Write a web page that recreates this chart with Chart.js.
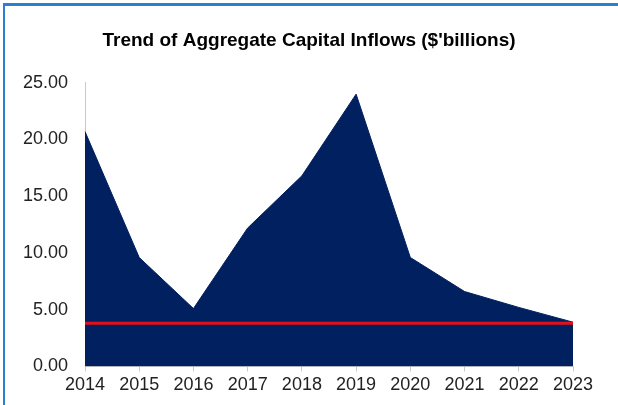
<!DOCTYPE html>
<html>
<head>
<meta charset="utf-8">
<script src="https://cdn.jsdelivr.net/npm/chart.js@4/dist/chart.umd.min.js"></script>
<style>
  html, body { margin: 0; padding: 0; background: #fff; }
  #wrap { position: relative; width: 618px; height: 405px; overflow: hidden; }
  #frame { position: absolute; left: 3px; top: 3px; right: -10px; bottom: -10px;
           border-top: 3px solid #2a7fd4; border-left: 2px solid #2a7fd4; }
  canvas { position: absolute; left: 0; top: 0; }
</style>
</head>
<body>
<div id="wrap">
  <canvas id="c" width="618" height="405"></canvas>
  <div id="frame"></div>
</div>
<script>
const years = ['2014','2015','2016','2017','2018','2019','2020','2021','2022','2023'];
const inflows = [20.7, 9.6, 5.1, 12.2, 16.8, 24.0, 9.6, 6.6, 5.2, 3.9];
const benchmark = [3.8, 3.8, 3.8, 3.8, 3.8, 3.8, 3.8, 3.8, 3.8, 3.8];
const titleText = "Trend of Aggregate Capital Inflows ($'billions)";

new Chart(document.getElementById('c'), {
  type: 'line',
  data: {
    labels: years,
    datasets: [
      {
        label: 'Benchmark',
        data: benchmark,
        borderColor: '#e3101b',
        borderWidth: 3,
        pointRadius: 0,
        fill: false,
        order: 0
      },
      {
        label: 'Capital Inflows',
        data: inflows,
        borderColor: '#002060',
        backgroundColor: '#002060',
        borderWidth: 1,
        pointRadius: 0,
        tension: 0,
        fill: 'origin',
        order: 1
      }
    ]
  },
  options: {
    responsive: false,
    animation: false,
    devicePixelRatio: 1,
    layout: { padding: { left: 0, right: 0, top: 21, bottom: 6 } },
    plugins: {
      legend: { display: false },
      tooltip: { enabled: false },
      title: {
        display: true,
        text: titleText,
        color: '#000',
        font: { family: 'Liberation Sans, Arial, sans-serif', size: 19, weight: 'bold' },
        padding: { top: 8, bottom: 31 }
      }
    },
    scales: {
      x: {
        type: 'category',
        offset: false,
        grid: { display: true, drawOnChartArea: false, drawTicks: true, tickLength: 5, color: '#c8c8c8' },
        border: { display: true, color: '#c8c8c8' },
        ticks: {
          color: '#222',
          font: { family: 'Liberation Sans, Arial, sans-serif', size: 18 },
          padding: 3,
          maxRotation: 0,
          autoSkip: false
        }
      },
      y: {
        min: 0,
        max: 25,
        afterFit: s => { s.width = 85; },
        grid: { display: false, drawTicks: false },
        border: { display: true, color: '#c8c8c8' },
        ticks: {
          stepSize: 5,
          color: '#222',
          font: { family: 'Liberation Sans, Arial, sans-serif', size: 18 },
          padding: 17,
          callback: v => Number(v).toFixed(2)
        }
      },
      yRight: {
        position: 'right',
        min: 0,
        max: 25,
        afterFit: s => { s.width = 45; },
        grid: { display: false, drawTicks: false },
        border: { display: false },
        ticks: { display: false }
      }
    }
  }
});
</script>
</body>
</html>
